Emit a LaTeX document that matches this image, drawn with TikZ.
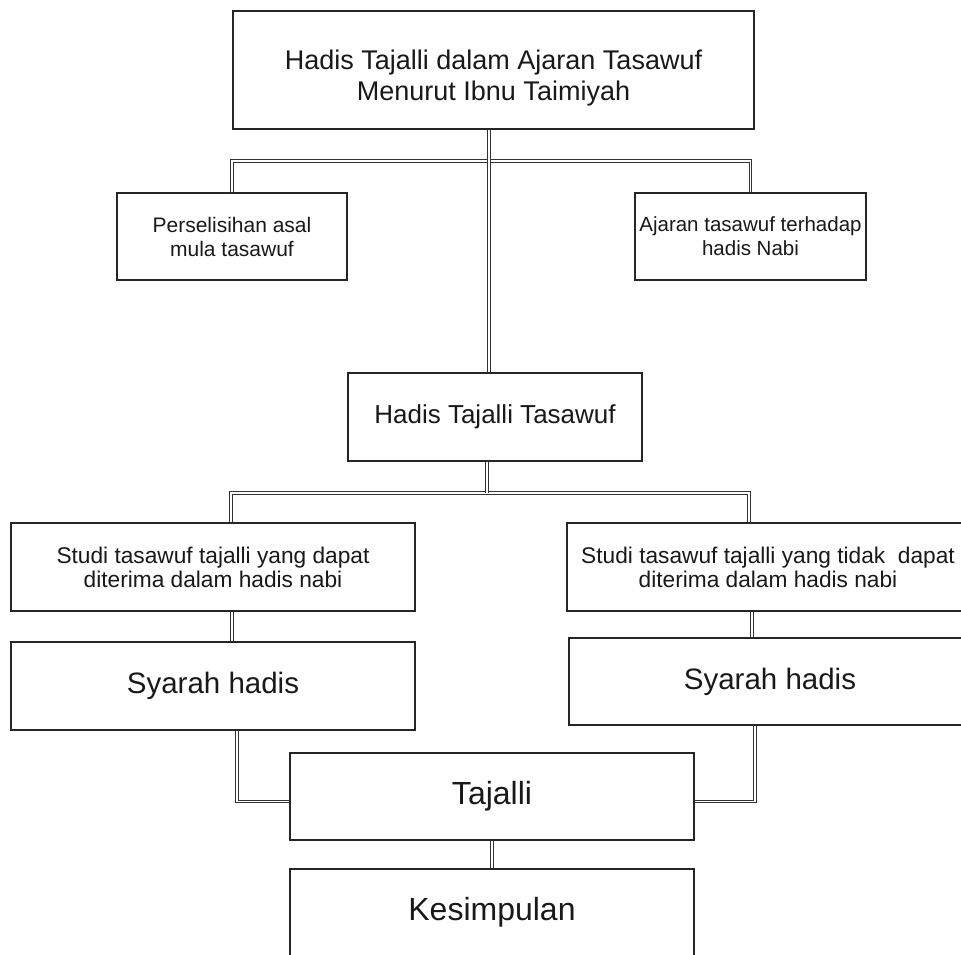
\documentclass[tikz,border=0pt]{standalone}
\usepackage{fontspec}
\setmainfont{Liberation Sans}
\usetikzlibrary{calc}
\tikzset{
  box/.style={draw=black!85,line width=1.1pt,fill=white,inner sep=0pt,align=center,text=black!90},
  link/.style={draw=black!80,double=white,double distance=1.4pt,line width=0.9pt}
}
\begin{document}
\begin{tikzpicture}[x=1pt,y=-1pt]
\useasboundingbox (0,0) rectangle (961,954);
%boxes
\node[box,minimum width=521pt,minimum height=118pt,font=\fontsize{27}{31}\selectfont] (top) at (493.5,70) {\rule{0pt}{36pt}Hadis Tajalli dalam Ajaran Tasawuf\\Menurut Ibnu Taimiyah};
\node[box,minimum width=230pt,minimum height=87pt,font=\fontsize{21}{24}\selectfont] (per) at (232,236.5) {Perselisihan asal\\mula tasawuf};
\node[box,minimum width=231pt,minimum height=87pt,font=\fontsize{20.5}{24}\selectfont] (aja) at (750.5,236.5) {Ajaran tasawuf terhadap\\hadis Nabi};
\node[box,minimum width=294pt,minimum height=88pt,font=\fontsize{26}{30}\selectfont] (mid) at (495,417) {Hadis Tajalli Tasawuf};
\node[box,minimum width=404pt,minimum height=88pt,font=\fontsize{22.7}{24}\selectfont] (sdL) at (213,567) {Studi tasawuf tajalli yang dapat\\diterima dalam hadis nabi};
\node[box,minimum width=402pt,minimum height=88pt,font=\fontsize{22.7}{24}\selectfont] (sdR) at (768,567) {Studi tasawuf tajalli yang tidak\ \ dapat\\diterima dalam hadis nabi};
\node[box,minimum width=404pt,minimum height=88pt,font=\fontsize{29.5}{34}\selectfont] (syL) at (213,686) {Syarah hadis};
\node[box,minimum width=402pt,minimum height=87pt,font=\fontsize{29.5}{34}\selectfont] (syR) at (770,681.5) {Syarah hadis};
\node[box,minimum width=404pt,minimum height=87pt,font=\fontsize{32}{36}\selectfont] (taj) at (492,796.5) {Tajalli};
\node[box,minimum width=404pt,minimum height=87pt,font=\fontsize{32}{36}\selectfont] (kes) at (492,912.5) {Kesimpulan};
%bars
\coordinate (bar1) at (489,161);
\coordinate (bar2) at (487,493);
%connectors
\draw[link] (per.north) |- (bar1) -| (aja.north);
\draw[link] (top.south -| bar1) -- (mid.north -| bar1);
\draw[link] ([xshift=18pt]sdL.north) |- (bar2) -| ([xshift=-19pt]sdR.north);
\draw[link] (mid.south -| bar2) -- (bar2);
\draw[link] ([xshift=19pt]sdL.south) -- ([xshift=19pt]sdL.south |- syL.north);
\draw[link] ([xshift=-16pt]sdR.south) -- ([xshift=-16pt]sdR.south |- syR.north);
\draw[link] ([xshift=24pt]syL.south) |- ([yshift=-5pt]taj.west);
\draw[link] ([xshift=-15pt]syR.south) |- ([yshift=-5pt]taj.east);
\draw[link] (taj.south) -- (kes.north);
\end{tikzpicture}
\end{document}
